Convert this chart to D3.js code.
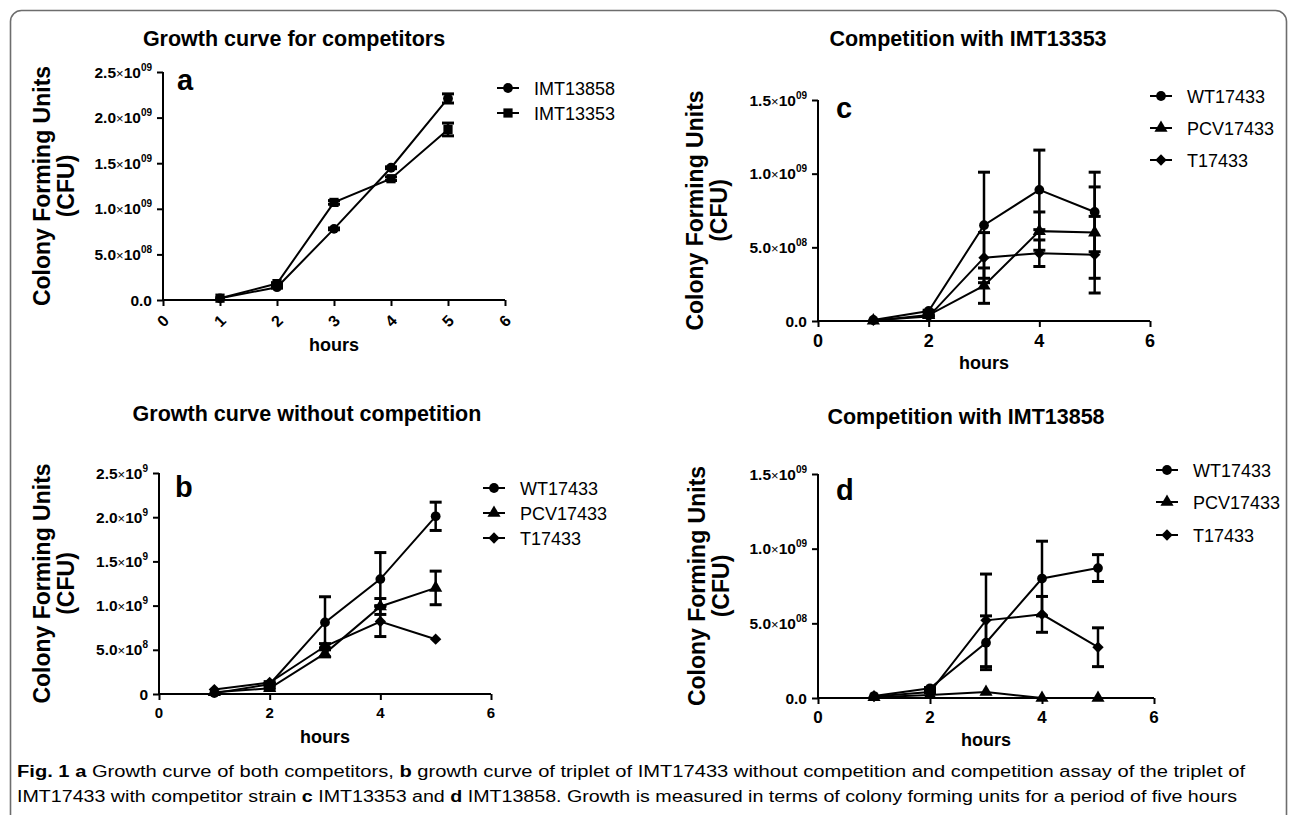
<!DOCTYPE html>
<html>
<head>
<meta charset="utf-8">
<script src="https://cdn.jsdelivr.net/npm/d3@7"></script>
<style>
  body { margin: 0; background: #fff; }
  svg text { font-family: "Liberation Sans", Arial, sans-serif; fill: #000; }
</style>
</head>
<body>
<svg id="fig" width="1293" height="815"></svg>
<script>
// ---- data (CFU) ----
const hours = [1, 2, 3, 4, 5];

// a: growth curve for competitors
const aImt13858 = [0.018e9, 0.14e9, 0.78e9, 1.45e9, 2.21e9];
const aImt13858Err = [0, 0.01e9, 0.01e9, 0.01e9, 0.05e9];
const aImt13353 = [0.02e9, 0.18e9, 1.07e9, 1.33e9, 1.87e9];
const aImt13353Err = [0, 0.01e9, 0.02e9, 0.02e9, 0.07e9];

// b: growth curve without competition
const bWt = [0.01e9, 0.11e9, 0.81e9, 1.30e9, 2.01e9];
const bWtErr = [0, 0.01e9, 0.29e9, 0.30e9, 0.16e9];
const bPcv = [0.02e9, 0.065e9, 0.46e9, 0.99e9, 1.20e9];
const bPcvErr = [0, 0.01e9, 0.04e9, 0.09e9, 0.19e9];
const bT = [0.05e9, 0.13e9, 0.54e9, 0.82e9, 0.62e9];
const bTErr = [0, 0.01e9, 0.03e9, 0.17e9, 0];

// c: competition with IMT13353
const cWt = [0.007e9, 0.068e9, 0.65e9, 0.89e9, 0.74e9];
const cWtErr = [0, 0.005e9, 0.36e9, 0.27e9, 0.27e9];
const cPcv = [0.002e9, 0.04e9, 0.24e9, 0.61e9, 0.60e9];
const cPcvErr = [0, 0.005e9, 0.12e9, 0.13e9, 0.31e9];
const cT = [0.005e9, 0.03e9, 0.43e9, 0.46e9, 0.45e9];
const cTErr = [0, 0.005e9, 0.17e9, 0.09e9, 0.26e9];

// d: competition with IMT13858
const dWt = [0.013e9, 0.065e9, 0.37e9, 0.80e9, 0.87e9];
const dWtErr = [0, 0.005e9, 0.18e9, 0.25e9, 0.09e9];
const dPcv = [0.005e9, 0.02e9, 0.04e9, 0.0, 0.0];
const dPcvErr = [0, 0, 0, 0, 0];
const dT = [0.01e9, 0.04e9, 0.52e9, 0.56e9, 0.34e9];
const dTErr = [0, 0.005e9, 0.31e9, 0.12e9, 0.13e9];

// tick values and labels
const yTicks25 = [0, 0.5e9, 1.0e9, 1.5e9, 2.0e9, 2.5e9];
const yTicks15 = [0, 0.5e9, 1.0e9, 1.5e9];
const aYMant = ['0.0', '5.0', '1.0', '1.5', '2.0', '2.5'];
const aYExp = ['', '08', '09', '09', '09', '09'];
const bYMant = ['0', '5.0', '1.0', '1.5', '2.0', '2.5'];
const bYExp = ['', '8', '9', '9', '9', '9'];
const cdYMant = ['0.0', '5.0', '1.0', '1.5'];
const cdYExp = ['', '08', '09', '09'];
const xTicksAll = [0, 1, 2, 3, 4, 5, 6];
const xTicksEven = [0, 2, 4, 6];

const caption1 = [['Fig. 1', true], ['  ', false], ['a', true], [' Growth curve of both competitors, ', false], ['b', true],
  [' growth curve of triplet of IMT17433 without competition and competition assay of the triplet of', false]];
const caption2 = [['IMT17433 with competitor strain ', false], ['c', true], [' IMT13353 and ', false], ['d', true],
  [' IMT13858. Growth is measured in terms of colony forming units for a period of five hours', false]];

// ---- drawing ----
const svg = d3.select('#fig');

svg.append('rect')
  .attr('x', 10.5).attr('y', 10.5)
  .attr('width', 1276).attr('height', 830)
  .attr('rx', 11)
  .attr('fill', 'none')
  .attr('stroke', '#6d6d6d')
  .attr('stroke-width', 1.6);

const shapes = {
  circle: d3.symbol().type(d3.symbolCircle).size(75),
  square: d3.symbol().type(d3.symbolSquare).size(85),
  triangle: d3.symbol().type(d3.symbolTriangle).size(75),
  diamond: d3.symbol().type(d3.symbolSquare).size(64)
};

function marker(g, shape, x, y) {
  g.append('path')
    .attr('d', shapes[shape]())
    .attr('transform', `translate(${x},${y})` + (shape === 'diamond' ? ' rotate(45)' : ''))
    .attr('fill', '#000');
}

function drawPanel(p) {
  const g = svg.append('g');
  const x = d3.scaleLinear().domain([0, 6]).range([p.ox, p.ox + p.w]);
  const y = d3.scaleLinear().domain([0, p.yMax]).range([p.oy, p.oy - p.h]);

  // y axis
  const yAxis = g.append('g')
    .attr('transform', `translate(${p.ox},0)`)
    .call(d3.axisLeft(y).tickValues(p.yTicks).tickSize(6).tickFormat(''));
  yAxis.select('.domain').attr('stroke-width', 2).attr('d', `M0,${y(p.yMax)}V${p.oy}`);
  yAxis.selectAll('.tick line').attr('stroke-width', 2);

  g.selectAll('text.ytick')
    .data(p.yTicks)
    .enter()
    .append('text')
    .attr('class', 'ytick')
    .attr('x', p.ox - 11)
    .attr('y', d => y(d) + 5.5)
    .attr('text-anchor', 'end')
    .attr('font-size', 15.5)
    .attr('font-weight', 'bold')
    .each(function (d, i) {
      const t = d3.select(this);
      t.append('tspan').text(p.yMant[i]);
      if (p.yExp[i] !== '') {
        t.append('tspan').attr('font-weight', 'normal').attr('font-size', 13).text('×');
        t.append('tspan').text('10');
        t.append('tspan').attr('font-size', 10).attr('dy', -7).text(p.yExp[i]);
      }
    });

  // x axis
  const xAxis = g.append('g')
    .attr('transform', `translate(0,${p.oy})`)
    .call(d3.axisBottom(x).tickValues(p.xTicks).tickSize(6).tickFormat(''));
  xAxis.select('.domain').attr('stroke-width', 2).attr('d', `M${p.ox},0H${p.ox + p.w}`);
  xAxis.selectAll('.tick line').attr('stroke-width', 2);

  g.selectAll('text.xtick')
    .data(p.xTicks)
    .enter()
    .append('text')
    .attr('class', 'xtick')
    .attr('font-size', p.xFont)
    .attr('font-weight', 'bold')
    .attr('text-anchor', 'middle')
    .attr('transform', d => p.rotate
      ? `translate(${x(d)},${p.oy + 21}) rotate(-45)`
      : `translate(${x(d)},${p.oy + p.xLabelDy})`)
    .attr('dy', p.rotate ? '0.35em' : 0)
    .text(d => d);

  // titles and labels
  g.append('text')
    .attr('x', p.titleX).attr('y', p.titleY)
    .attr('text-anchor', 'middle')
    .attr('font-size', 21.5).attr('font-weight', 'bold')
    .text(p.title);

  g.append('text')
    .attr('x', p.letterX).attr('y', p.letterY)
    .attr('font-size', 29).attr('font-weight', 'bold')
    .text(p.letter);

  g.append('text')
    .attr('x', x(3)).attr('y', p.hoursY)
    .attr('text-anchor', 'middle')
    .attr('font-size', 18).attr('font-weight', 'bold')
    .text('hours');

  const yLab = g.append('text')
    .attr('transform', `translate(${p.yLabX},${p.oy - p.h / 2}) rotate(-90)`)
    .attr('text-anchor', 'middle')
    .attr('font-size', 23).attr('font-weight', 'bold');
  yLab.append('tspan').attr('x', 0).attr('y', 0).text('Colony Forming Units');
  yLab.append('tspan').attr('x', 0).attr('y', 24).text('(CFU)');

  // series
  const line = d3.line().x((d, i) => x(hours[i])).y(d => y(d));
  p.series.forEach((s, si) => {
    const sg = g.append('g');
    sg.append('path')
      .attr('d', line(s.mean))
      .attr('fill', 'none')
      .attr('stroke', '#000')
      .attr('stroke-width', 2);

    s.mean.forEach((m, i) => {
      const e = s.err[i];
      if (e > 0) {
        const cx = x(hours[i]);
        const lo = y(Math.max(0, m - e));
        const hi = y(m + e);
        sg.append('line').attr('x1', cx).attr('x2', cx).attr('y1', lo).attr('y2', hi)
          .attr('stroke', '#000').attr('stroke-width', 2.5);
        [hi, m - e > 0 ? lo : null].forEach(cy => {
          if (cy === null) return;
          sg.append('line').attr('x1', cx - 6).attr('x2', cx + 6).attr('y1', cy).attr('y2', cy)
            .attr('stroke', '#000').attr('stroke-width', 3);
        });
      }
      marker(sg, s.shape, x(hours[i]), y(m));
    });

    // legend entry
    const ly = p.legendY[si];
    g.append('line')
      .attr('x1', p.legendX).attr('x2', p.legendX + 22)
      .attr('y1', ly).attr('y2', ly)
      .attr('stroke', '#000').attr('stroke-width', 2);
    marker(g, s.shape, p.legendX + 11, ly);
    g.append('text')
      .attr('x', p.legendX + 37).attr('y', ly + 6.5)
      .attr('font-size', 18)
      .text(s.name);
  });
}

drawPanel({
  ox: 163, oy: 300, w: 342, h: 228, yMax: 2.5e9,
  yTicks: yTicks25, yMant: aYMant, yExp: aYExp,
  xTicks: xTicksAll, rotate: true, xFont: 16,
  title: 'Growth curve for competitors', titleX: 294, titleY: 46,
  letter: 'a', letterX: 177, letterY: 90,
  hoursY: 351, yLabX: 50, legendX: 497, legendY: [88, 113],
  series: [
    { name: 'IMT13858', mean: aImt13858, err: aImt13858Err, shape: 'circle' },
    { name: 'IMT13353', mean: aImt13353, err: aImt13353Err, shape: 'square' }
  ]
});

drawPanel({
  ox: 159, oy: 694, w: 332, h: 221, yMax: 2.5e9,
  yTicks: yTicks25, yMant: bYMant, yExp: bYExp,
  xTicks: xTicksEven, rotate: false, xFont: 15, xLabelDy: 24,
  title: 'Growth curve without competition', titleX: 307, titleY: 421,
  letter: 'b', letterX: 175, letterY: 497,
  hoursY: 743, yLabX: 50, legendX: 483, legendY: [488, 513, 538],
  series: [
    { name: 'WT17433', mean: bWt, err: bWtErr, shape: 'circle' },
    { name: 'PCV17433', mean: bPcv, err: bPcvErr, shape: 'triangle' },
    { name: 'T17433', mean: bT, err: bTErr, shape: 'diamond' }
  ]
});

drawPanel({
  ox: 818, oy: 321, w: 332, h: 221, yMax: 1.5e9,
  yTicks: yTicks15, yMant: cdYMant, yExp: cdYExp,
  xTicks: xTicksEven, rotate: false, xFont: 18, xLabelDy: 26,
  title: 'Competition with IMT13353', titleX: 968, titleY: 46,
  letter: 'c', letterX: 836, letterY: 118,
  hoursY: 369, yLabX: 703, legendX: 1150, legendY: [96, 128, 160],
  series: [
    { name: 'WT17433', mean: cWt, err: cWtErr, shape: 'circle' },
    { name: 'PCV17433', mean: cPcv, err: cPcvErr, shape: 'triangle' },
    { name: 'T17433', mean: cT, err: cTErr, shape: 'diamond' }
  ]
});

drawPanel({
  ox: 818, oy: 698, w: 336, h: 224, yMax: 1.5e9,
  yTicks: yTicks15, yMant: cdYMant, yExp: cdYExp,
  xTicks: xTicksEven, rotate: false, xFont: 17, xLabelDy: 25,
  title: 'Competition with IMT13858', titleX: 966, titleY: 424,
  letter: 'd', letterX: 836, letterY: 500,
  hoursY: 746, yLabX: 705, legendX: 1156, legendY: [470, 502, 535],
  series: [
    { name: 'WT17433', mean: dWt, err: dWtErr, shape: 'circle' },
    { name: 'PCV17433', mean: dPcv, err: dPcvErr, shape: 'triangle' },
    { name: 'T17433', mean: dT, err: dTErr, shape: 'diamond' }
  ]
});

// caption
function captionLine(parts, yPos, len) {
  const t = svg.append('text')
    .attr('x', 17).attr('y', yPos)
    .attr('font-size', 16)
    .attr('fill', '#222')
    .attr('textLength', len)
    .attr('lengthAdjust', 'spacingAndGlyphs');
  parts.forEach(([s, bold]) => {
    t.append('tspan').attr('font-weight', bold ? 'bold' : 'normal').text(s);
  });
}
captionLine(caption1, 777, 1228);
captionLine(caption2, 802, 1220);
</script>
</body>
</html>
